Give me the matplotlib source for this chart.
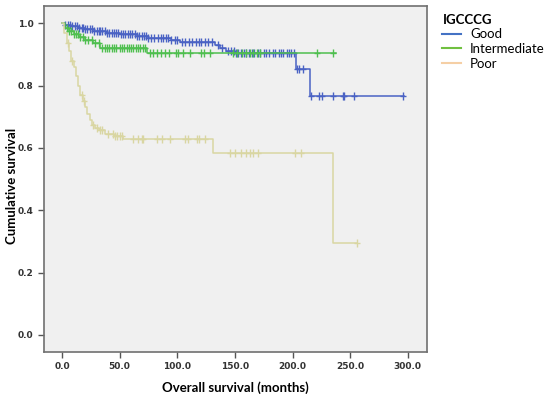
import numpy as np
import matplotlib
matplotlib.use("Agg")
import matplotlib.pyplot as plt
from matplotlib.lines import Line2D

# ---- data ----
good_t = [0, 3, 8, 14, 20, 28, 38, 50, 65, 75, 95, 102, 133, 137, 142, 150, 203, 215]
good_s = [1.0, 0.995, 0.99, 0.985, 0.98, 0.975, 0.97, 0.965, 0.958, 0.953, 0.947, 0.940,
          0.93, 0.92, 0.912, 0.905, 0.852, 0.765]
good_end = 297
good_c = [3, 5, 7, 9, 11, 13, 15, 17, 18, 20, 22, 24, 26, 28, 30, 32, 33, 35, 37, 39, 41, 43,
          45, 47, 49, 51, 53, 55, 57, 59, 61, 63, 65, 67, 69, 71, 73, 75, 77, 80, 83, 86, 88,
          90, 92, 95, 98, 100, 104, 107, 110, 113, 116, 119, 121, 124, 127, 130, 135, 139,
          144, 147, 149, 151, 153, 155, 158, 160, 162, 165, 167, 170, 172, 175, 177, 180,
          183, 185, 188, 190, 192, 195, 197, 199, 201, 204, 206, 209, 216, 223, 226, 235,
          244, 245, 253, 296]

inter_t = [0, 3, 6, 10, 15, 20, 27, 33, 74]
inter_s = [1.0, 0.985, 0.975, 0.965, 0.955, 0.945, 0.935, 0.92, 0.903]
inter_end = 238
inter_c = [4, 6, 8, 10, 12, 14, 16, 18, 20, 23, 26, 29, 32, 35, 37, 39, 41, 43, 45, 47, 50,
           52, 54, 56, 58, 60, 62, 64, 66, 68, 70, 72, 76, 79, 82, 86, 89, 93, 99, 101, 105,
           111, 121, 123, 128, 148, 152, 156, 160, 163, 166, 169, 172, 221, 235]

poor_t = [0, 2, 4, 6, 8, 10, 12, 14, 16, 18, 20, 22, 24, 26, 29, 32, 37, 45, 53, 131, 235.5]
poor_s = [1.0, 0.97, 0.935, 0.91, 0.88, 0.86, 0.83, 0.80, 0.77, 0.75, 0.73, 0.71, 0.69,
          0.673, 0.665, 0.657, 0.646, 0.638, 0.630, 0.582, 0.294]
poor_end = 256
poor_c = [5, 9, 17, 19, 27, 30, 33, 35, 40, 44, 46, 48, 50, 52, 62, 66, 69, 70, 82, 87, 94,
          107, 109, 117, 119, 124, 146, 150, 155, 160, 163, 166, 170, 202, 207, 256]

groups = ["Good", "Intermediate", "Poor"]
line_colors = ["#4a62c4", "#4fbf4f", "#d9d6a2"]
legend_colors = ["#4472c4", "#70c040", "#f5cfa5"]

fig = plt.figure(figsize=(5.5, 3.94), dpi=100)
ax = fig.add_axes([0.08, 0.1066, 0.696, 0.878])
ax.set_facecolor("#f0f0f0")

def surv_at(t, times, surv):
    idx = np.searchsorted(times, t, side="right") - 1
    return np.asarray(surv)[idx]

data = [(good_t, good_s, good_end, good_c), (inter_t, inter_s, inter_end, inter_c),
        (poor_t, poor_s, poor_end, poor_c)]
for (t, s, end, c), col in zip(data, line_colors):
    tt = list(t) + [end]
    ss = list(s) + [s[-1]]
    ax.step(tt, ss, where="post", color=col, lw=1.1)
    cy = surv_at(np.array(c), t, s)
    ax.plot(c, cy, ls="none", marker="|", ms=6, mew=1.0, color=col)
    ax.plot(c, cy, ls="none", marker="_", ms=4, mew=1.0, color=col)

ax.set_xlim(-15.6, 316.5)
ax.set_ylim(-0.055, 1.055)
ax.set_xticks(np.arange(0, 301, 50))
ax.set_xticklabels([f"{v:.1f}" for v in np.arange(0, 301, 50)])
ax.set_yticks(np.arange(0, 1.01, 0.2))
ax.set_yticklabels([f"{v:.1f}" for v in np.arange(0, 1.01, 0.2)])
ax.tick_params(direction="out", length=4, width=1, color="#555555",
               labelsize=6.5, labelcolor="#333333")
for lab in ax.get_xticklabels() + ax.get_yticklabels():
    lab.set_fontweight("bold")
for sp in ax.spines.values():
    sp.set_color("#707070")
    sp.set_linewidth(1.2)

ax.set_xlabel("Overall survival (months)", fontsize=9.5, fontweight="bold",
              family="Lato", labelpad=7)
ax.set_ylabel("Cumulative survival", fontsize=9.5, fontweight="bold", family="Lato")
ax.yaxis.set_label_coords(-0.068, 0.48)

handles = [Line2D([0], [0], color=c, lw=1.5) for c in legend_colors]
leg = fig.legend(handles, groups, loc="upper left", bbox_to_anchor=(0.79, 0.985),
                 frameon=False, prop={"family": "Lato", "size": 9.5}, title="IGCCCG",
                 handlelength=1.4, handletextpad=0.7, labelspacing=0.2, alignment="left",
                 borderaxespad=0.2)
leg.get_title().set_fontweight("bold")
leg.get_title().set_family("Lato")
leg.get_title().set_fontsize(9.5)

fig.savefig("out.png", dpi=100)
